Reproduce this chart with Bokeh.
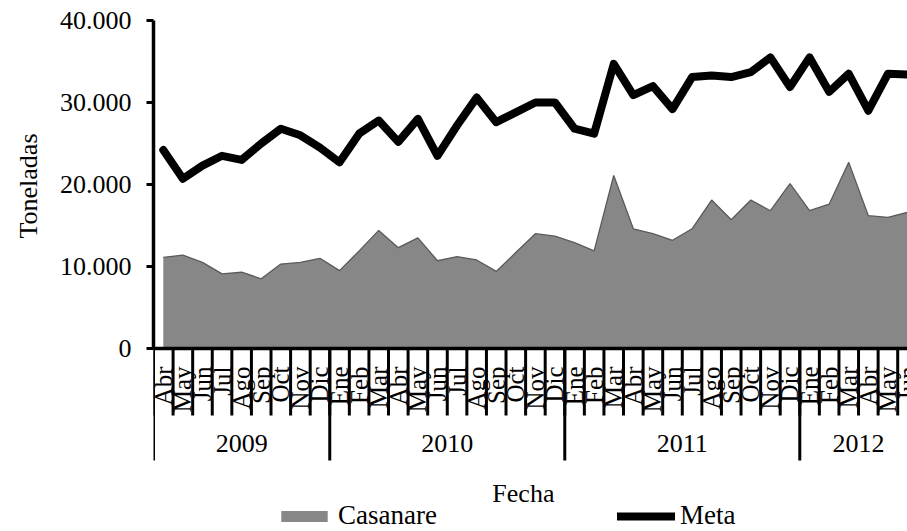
import math
from bokeh.plotting import figure
from bokeh.models import Range1d, FixedTicker, Legend, LegendItem, Span, Title
from bokeh.core.properties import value
from bokeh.embed import file_html
from bokeh.resources import INLINE

# ---- data ----
months = ["Abr", "May", "Jun", "Jul", "Ago", "Sep", "Oct", "Nov", "Dic",
          "Ene", "Feb", "Mar", "Abr", "May", "Jun", "Jul", "Ago", "Sep", "Oct", "Nov", "Dic",
          "Ene", "Feb", "Mar", "Abr", "May", "Jun", "Jul", "Ago", "Sep", "Oct", "Nov", "Dic",
          "Ene", "Feb", "Mar", "Abr", "May", "Jun"]
years = ["2009", "2010", "2011", "2012"]
year_counts = [9, 12, 12, 6]
casanare = [11100, 11400, 10500, 9100, 9300, 8500, 10300, 10500, 11000,
            9500, 11900, 14400, 12300, 13500, 10700, 11200, 10800, 9400, 11700, 14000, 13700,
            12900, 11900, 21100, 14600, 14000, 13200, 14600, 18100, 15700, 18100, 16800, 20100,
            16800, 17600, 22700, 16200, 16000, 16600]
meta = [24200, 20700, 22300, 23500, 23000, 25000, 26800, 26000, 24500,
        22700, 26200, 27800, 25200, 28000, 23500, 27200, 30600, 27600, 28800, 30000, 30000,
        26800, 26200, 34700, 30900, 32000, 29200, 33100, 33300, 33100, 33700, 35500, 31900,
        35500, 31300, 33500, 29000, 33500, 33400]
y_ticks = [0, 10000, 20000, 30000, 40000]
y_tick_labels = ["0", "10.000", "20.000", "30.000", "40.000"]
x_title = "Fecha"
y_title = "Toneladas"

FONT = "Liberation Serif"
idx = list(range(len(months)))

# year group centres and boundaries (category index units)
year_centers, year_bounds = [], [-0.5]
start = 0
for c in year_counts:
    year_centers.append(start + (c - 1) / 2)
    start += c
    year_bounds.append(start - 0.5)
month_bounds = [i - 0.5 for i in range(len(months) + 1)]

# layout: value axis occupies 328 px for 0..40000, the category axis lives
# inside the frame below zero
W, H, TOP, LEFT = 907, 531, 20, 153
PLOT_H = 328
y_max = y_ticks[-1]
y_min = -y_max * (H - TOP - PLOT_H) / PLOT_H

p = figure(width=W, height=H, output_backend="svg", toolbar_location=None,
           x_range=Range1d(-0.5, 38.0), y_range=Range1d(y_min, y_max),
           min_border_left=LEFT, min_border_right=0, min_border_top=TOP, min_border_bottom=0)
p.outline_line_color = None
p.xgrid.visible = False
p.ygrid.visible = False
p.xaxis.visible = False
p.background_fill_color = "white"
p.border_fill_color = "white"

area = p.varea(x=idx, y1=0, y2=casanare, fill_color="#878787")
p.line(idx, casanare, line_color="#5a5a5a", line_width=1.3)
meta_line = p.line(idx, meta, line_color="black", line_width=8, line_join="round", line_cap="round")

# category axis: base line, separators, month and year labels, title
p.add_layout(Span(location=0, dimension="width", line_color="black", line_width=3.5))
p.ray(x=month_bounds, y=0, length=67, length_units="screen", angle=-math.pi / 2,
      line_color="black", line_width=3)
p.ray(x=year_bounds, y=0, length=112, length_units="screen", angle=-math.pi / 2,
      line_color="black", line_width=3)
p.text(x=idx, y=0, text=months, angle=math.pi / 2, y_offset=18,
       text_align="right", text_baseline="middle",
       text_font=value(FONT), text_font_size="25px", text_color="black")
p.text(x=year_centers, y=0, text=years, y_offset=95,
       text_align="center", text_baseline="alphabetic",
       text_font=value(FONT), text_font_size="26px", text_color="black")
p.text(x=[(len(months) - 1) / 2], y=[0], text=[x_title], x_offset=-12, y_offset=145,
       text_align="center", text_baseline="alphabetic",
       text_font=value(FONT), text_font_size="26px", text_color="black")

# value axis
ya = p.yaxis[0]
ya.bounds = (y_ticks[0], y_ticks[-1])
ya.ticker = FixedTicker(ticks=y_ticks)
ya.major_label_overrides = {v: s for v, s in zip(y_ticks, y_tick_labels)}
ya.axis_line_width = 3.5
ya.major_tick_line_width = 3
ya.major_tick_out = 7
ya.major_tick_in = 0
ya.minor_tick_line_color = None
ya.major_label_standoff = 15
ya.major_label_text_font = FONT
ya.major_label_text_font_size = "26px"
ya.major_label_text_color = "black"

# value axis title, placed along the 0..40000 span
p.add_layout(Title(text=y_title, align="left", vertical_align="top", offset=293, standoff=24,
                   text_font=FONT, text_font_size="26px", text_font_style="normal",
                   text_color="black"), "left")

legend = Legend(items=[LegendItem(label="Casanare", renderers=[area]),
                       LegendItem(label="Meta", renderers=[meta_line])],
                orientation="horizontal", location=(122, 0),
                glyph_width=58, glyph_height=14, spacing=179, label_standoff=5, label_width=100,
                label_text_font=FONT, label_text_font_size="27px", label_text_color="black",
                padding=0, margin=0, border_line_color=None, background_fill_alpha=0)
p.add_layout(legend)

open("out.html", "w").write(file_html(p, INLINE))
